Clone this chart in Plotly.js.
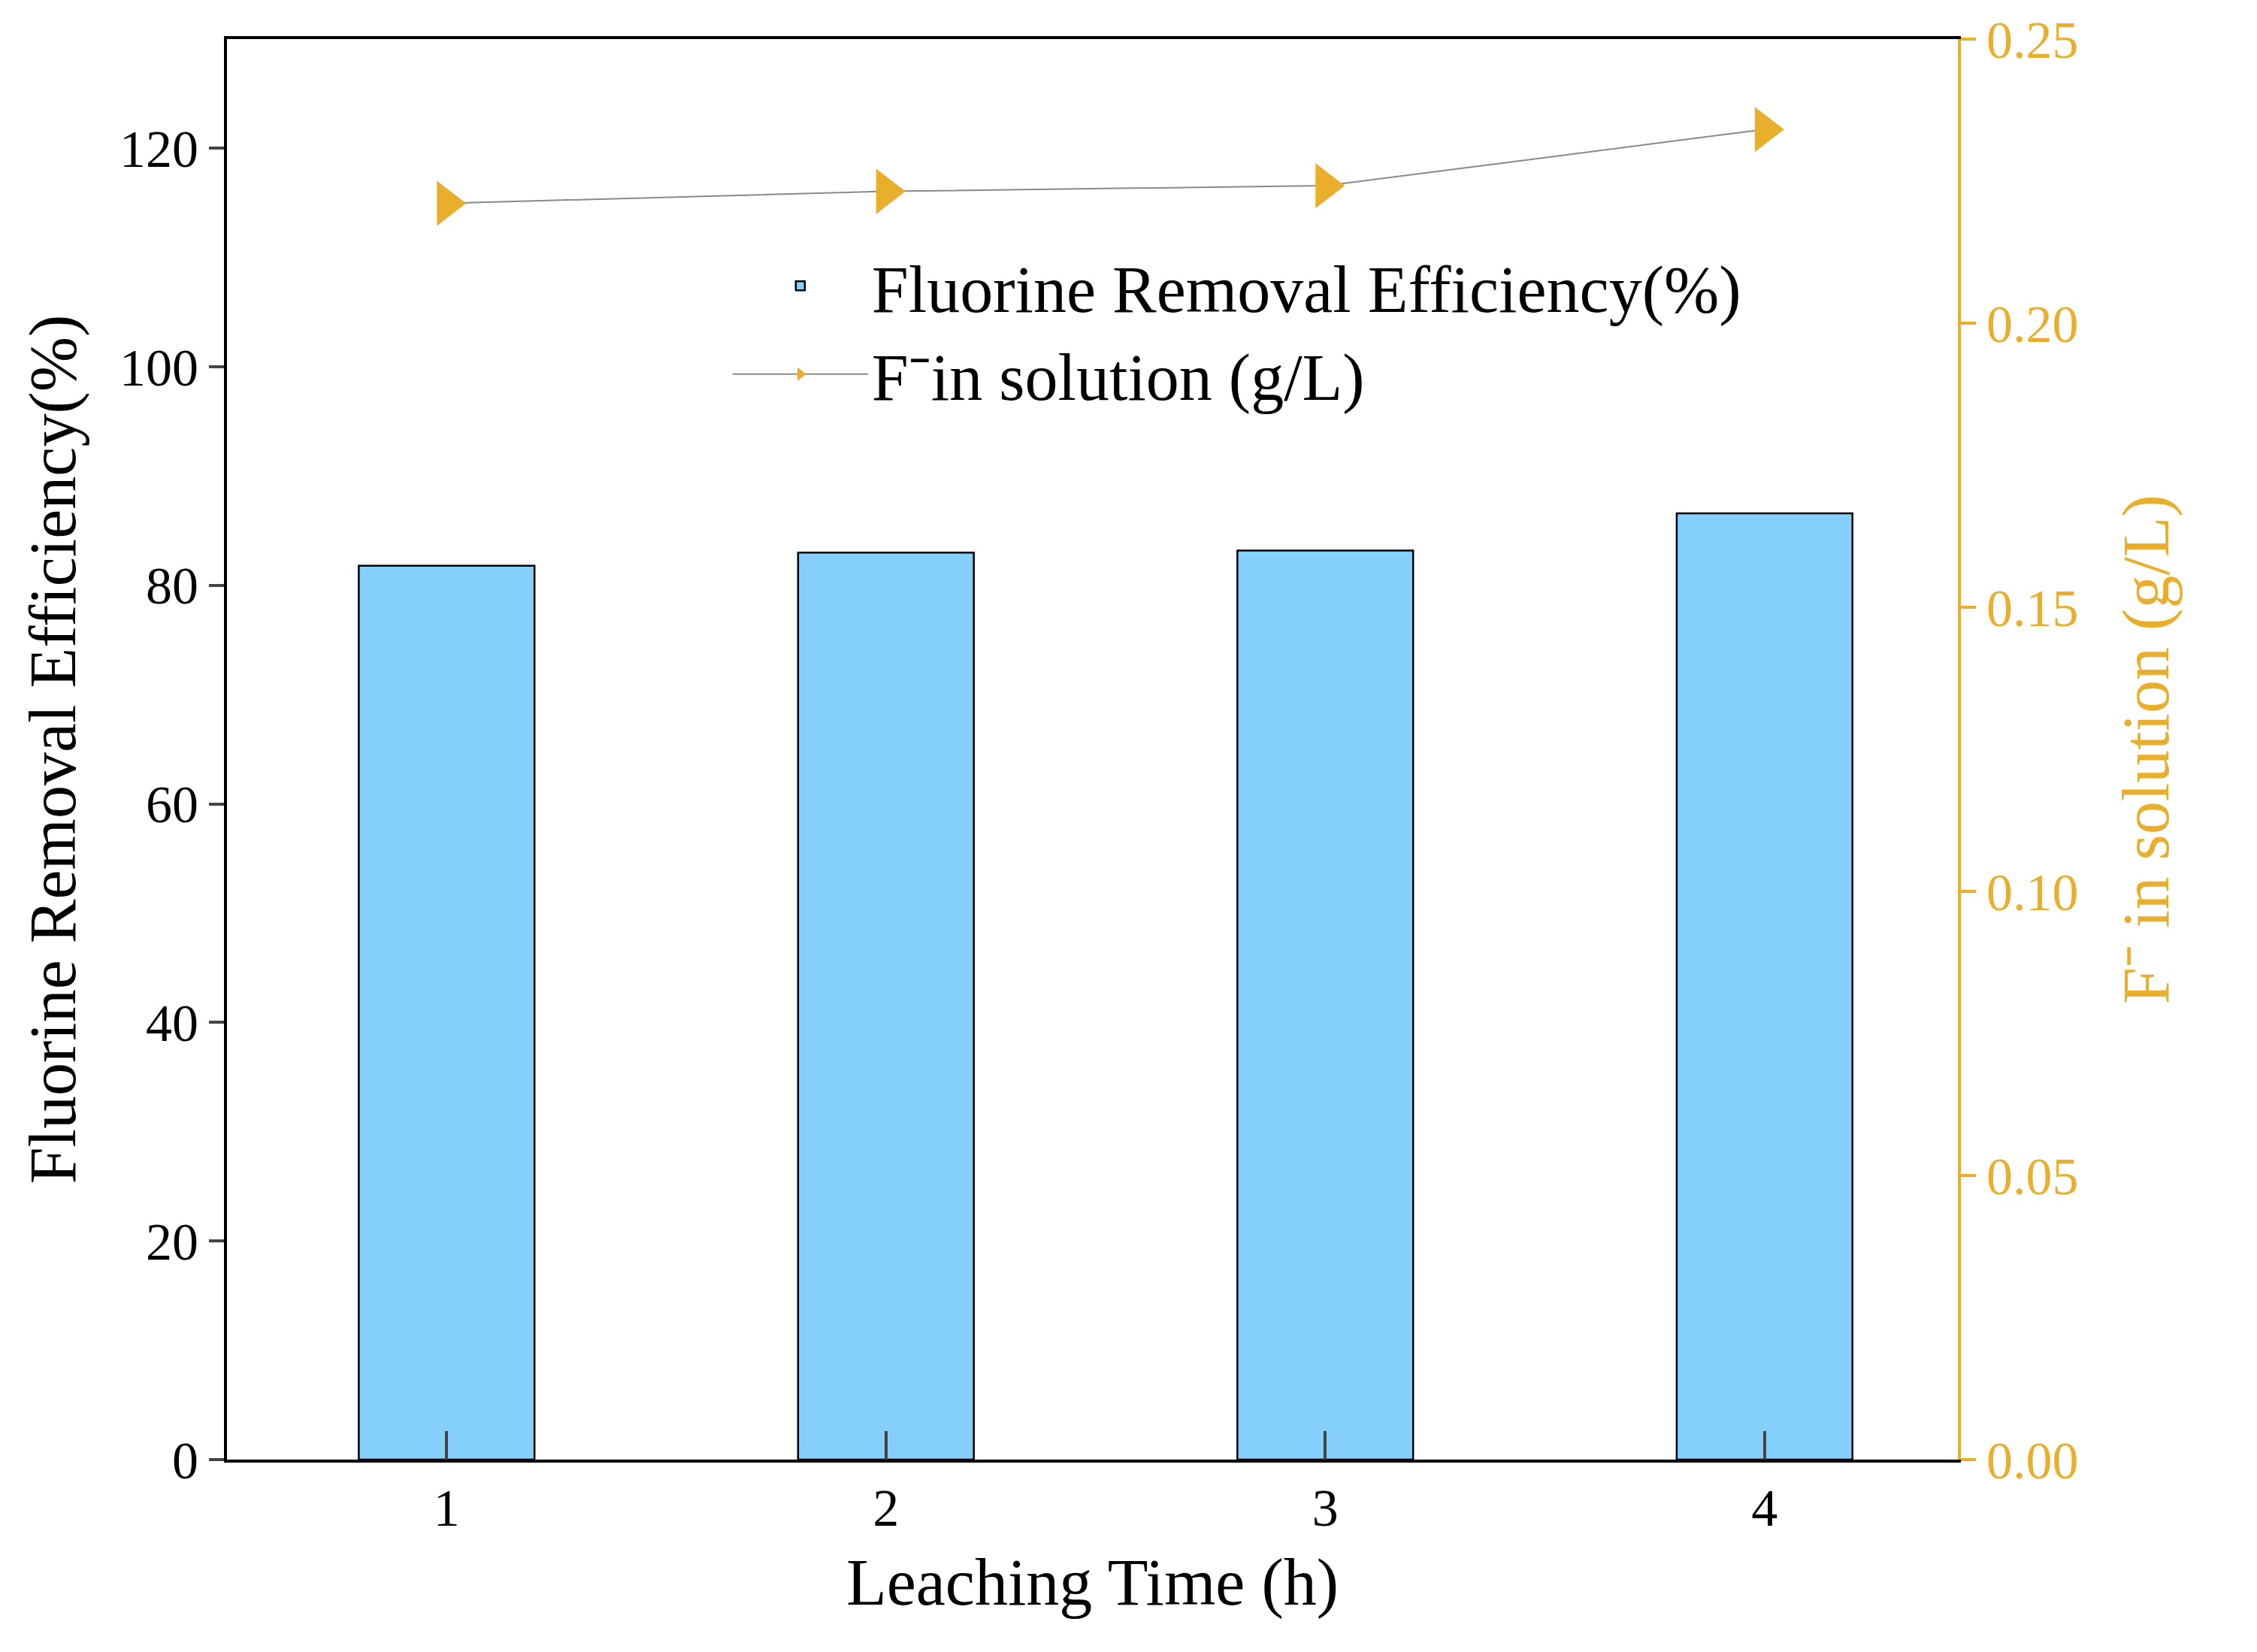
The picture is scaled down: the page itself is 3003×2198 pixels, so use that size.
<!DOCTYPE html>
<html><head><meta charset="utf-8">
<script src="https://cdn.plot.ly/plotly-3.0.1.min.js"></script>
<style>body{margin:0;background:#fff}</style></head>
<body><div id="c" style="width:3003px;height:2198px"></div>
<script>
const hours = [1, 2, 3, 4];
const efficiency = [81.8, 83.0, 83.2, 86.6];
const fluoride = [0.2211, 0.2232, 0.2242, 0.2341];
const tickLabels = ['1', '2', '3', '4'];
const gold = '#E8AE2C';
const font = {family: 'Liberation Serif, Times New Roman, serif', color: '#000'};
Plotly.newPlot('c', [
  {type: 'bar', x: hours, y: efficiency, width: 0.4, name: 'Fluorine Removal Efficiency(%)',
   marker: {color: '#85CFFC', line: {color: '#000', width: 2.5}}},
  {type: 'scatter', mode: 'lines+markers', x: hours, y: fluoride, yaxis: 'y2',
   name: 'F\u207Bin solution (g/L)', line: {color: '#888', width: 2},
   marker: {symbol: 'triangle-right', size: 52, color: gold}}
], {
  width: 3003, height: 2198, paper_bgcolor: '#fff', plot_bgcolor: '#fff',
  margin: {l: 302, r: 398, t: 52, b: 256},
  font: Object.assign({size: 70}, font),
  showlegend: true,
  legend: {x: 0.29, y: 0.86, xanchor: 'left', yanchor: 'top', font: {size: 88}, bgcolor: 'rgba(0,0,0,0)', itemwidth: 180, tracegroupgap: 20},
  xaxis: {range: [0.5, 4.44], tickvals: hours, ticktext: tickLabels, ticks: 'inside', ticklen: 38, tickwidth: 4,
    showline: true, linewidth: 4, linecolor: '#000', mirror: true, showgrid: false, zeroline: false,
    tickfont: {size: 70}, title: {text: 'Leaching Time (h)', font: {size: 88}, standoff: 30}},
  yaxis: {range: [0, 130], tickvals: [0, 20, 40, 60, 80, 100, 120], ticks: 'outside', ticklen: 20, tickwidth: 4,
    showline: true, linewidth: 4, linecolor: '#000', showgrid: false, zeroline: false,
    tickfont: {size: 70}, title: {text: 'Fluorine Removal Efficiency(%)', font: {size: 88}, standoff: 30}},
  yaxis2: {overlaying: 'y', side: 'right', range: [0, 0.25], tickvals: [0, 0.05, 0.1, 0.15, 0.2, 0.25],
    tickformat: '.2f', ticks: 'outside', ticklen: 20, tickwidth: 4, tickcolor: gold,
    showline: true, linewidth: 4, linecolor: gold, showgrid: false, zeroline: false,
    tickfont: {size: 70, color: gold},
    title: {text: 'F\u207B in solution (g/L)', font: {size: 88, color: gold}, standoff: 60}}
}, {displayModeBar: false});
</script></body></html>
